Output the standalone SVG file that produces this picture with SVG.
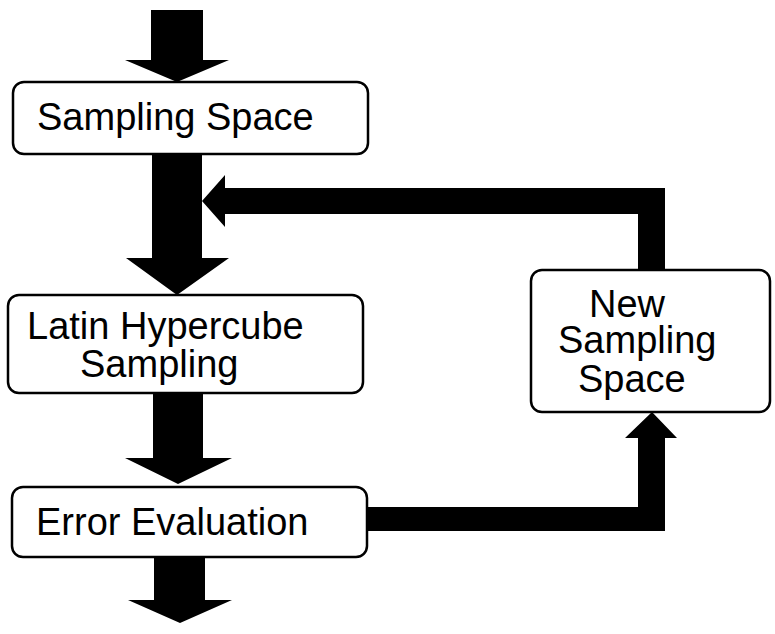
<svg xmlns="http://www.w3.org/2000/svg" width="775" height="634" viewBox="0 0 775 634">
<style>
.box{fill:#fff;stroke:#000;stroke-width:2.5}
.lbl{font-family:"Liberation Sans",Arial,sans-serif;font-size:38px;fill:#000}
.arr{fill:#000;stroke:none}
</style>
<rect width="775" height="634" fill="#fff"/>
<g id="connectors">
<polygon class="arr" points="151,10 203,10 203,60 229,60 177,82 125,60 151,60"/>
<polygon class="arr" points="152,154 202,154 202,258 229,258 177,295 126,258 152,258"/>
<polygon class="arr" points="665,270 638,270 638,214 225,214 225,227 202,201 225,175 225,188 665,188"/>
<polygon class="arr" points="153,393 203,393 203,458 232,458 178,484 125,458 153,458"/>
<polygon class="arr" points="367,507 638,507 638,438 625,438 652,412 677,438 665,438 665,531 367,531"/>
<polygon class="arr" points="154,557 205,557 205,600 232,600 180,623 128,600 154,600"/>
</g>
<g id="node-sampling-space">
<rect class="box" x="13" y="82" width="355" height="72" rx="11"/>
<text class="lbl" x="37" y="130">Sampling Space</text>
</g>
<g id="node-lhs">
<rect class="box" x="8" y="295" width="355" height="98" rx="11"/>
<text class="lbl" x="27" y="339">Latin Hypercube</text>
<text class="lbl" x="80" y="377">Sampling</text>
</g>
<g id="node-error">
<rect class="box" x="12" y="487" width="355" height="70" rx="11"/>
<text class="lbl" x="36" y="535">Error Evaluation</text>
</g>
<g id="node-new-space">
<rect class="box" x="531" y="270" width="239" height="142" rx="11"/>
<text class="lbl" x="589" y="317">New</text>
<text class="lbl" x="558" y="353">Sampling</text>
<text class="lbl" x="578" y="392">Space</text>
</g>
</svg>
